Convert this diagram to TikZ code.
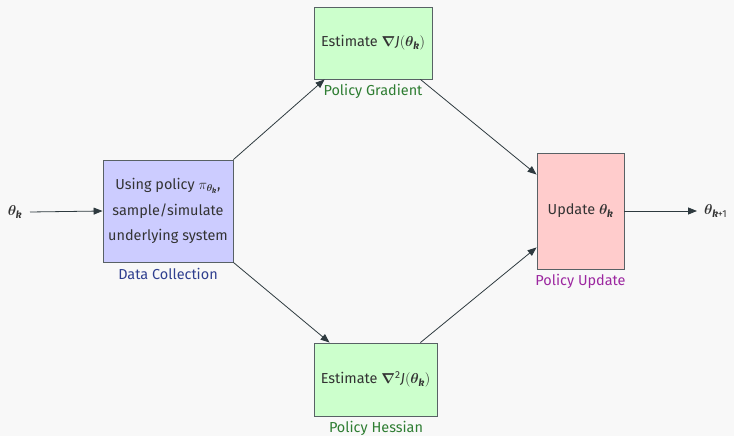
\documentclass[tikz,border=0pt]{standalone}
\usepackage{fontspec}
\usepackage{amsmath,bm}
\setmainfont{Fira Sans}
\usetikzlibrary{arrows.meta}
\definecolor{bgc}{HTML}{F8F8F8}
\definecolor{linec}{HTML}{2E3A3F}
\definecolor{txtc}{HTML}{333333}
\definecolor{dcfill}{HTML}{CCCCFF}
\definecolor{pgfillc}{HTML}{CCFFCC}
\definecolor{upfill}{HTML}{FFCCCC}
\definecolor{dclab}{HTML}{2F3F8F}
\definecolor{pglab}{HTML}{2E7D32}
\definecolor{uplab}{HTML}{9C27A0}
% bold parameter vector with subscript, italic J in the text face
\newcommand{\thk}[1]{\bm{\theta}_{\text{#1}}}
\newcommand{\kk}{{\bfseries\itshape k}}
\newcommand{\Jf}{\text{\itshape J}}
\tikzset{
  blk/.style={draw=linec!80, line width=0.9pt, text=txtc, inner sep=0pt, font=\fontsize{14.5}{26}\selectfont, align=center},
  lab/.style={font=\fontsize{14.5}{16}\selectfont, inner sep=0pt},
  conn/.style={draw=linec, line width=0.8pt, -{Triangle[length=9pt,width=7pt]}},
}
\begin{document}
\begin{tikzpicture}[x=1bp,y=-1bp]
\fill[bgc] (0,0) rectangle (734,436);
\useasboundingbox (0,0) rectangle (734,436);

\node[blk, fill=dcfill, minimum width=130bp, minimum height=102bp] (dc) at (168,211)
  {Using policy $\pi_{\thk{\kk}}$,\\sample/simulate\\underlying system};
\node[blk, fill=pgfillc, minimum width=118bp, minimum height=72bp] (pg) at (373,43)
  {Estimate $\bm{\nabla}\Jf(\thk{\kk})$};
\node[blk, fill=pgfillc, minimum width=123bp, minimum height=73bp] (ph) at (375.5,379.5)
  {Estimate $\bm{\nabla}^{\text{2}}\Jf(\thk{\kk})$};
\node[blk, fill=upfill, minimum width=87bp, minimum height=116bp] (up) at (580.5,211)
  {Update $\thk{\kk}$};

\node[lab, text=dclab] (dcl) at (168,274) {Data Collection};
\node[lab, text=pglab] (pgl) at (373,91) {Policy Gradient};
\node[lab, text=pglab] (phl) at (376,428) {Policy Hessian};
\node[lab, text=uplab] (upl) at (580.5,281) {Policy Update};

\node[text=txtc, inner sep=0pt, font=\fontsize{14.5}{16}\selectfont] (in) at (15,212) {$\thk{\kk}$};
\node[text=txtc, inner sep=0pt, font=\fontsize{14.5}{16}\selectfont, anchor=west] (out) at (704,211) {$\thk{\kk+1}$};

\coordinate (inS) at (30,212);
\coordinate (outE) at (697,211);
\draw[conn] (inS) -- (dc.west);
\draw[conn] (up.east) -- (outE);
\draw[conn] (dc.north east) -- ([xshift=11bp]pg.south west);
\draw[conn] ([xshift=-12bp]pg.south east) -- ([yshift=-22bp]up.north west);
\draw[conn] (dc.south east) -- ([xshift=16bp]ph.north west);
\draw[conn] ([xshift=-17bp]ph.north east) -- ([yshift=22bp]up.south west);
\end{tikzpicture}
\end{document}
